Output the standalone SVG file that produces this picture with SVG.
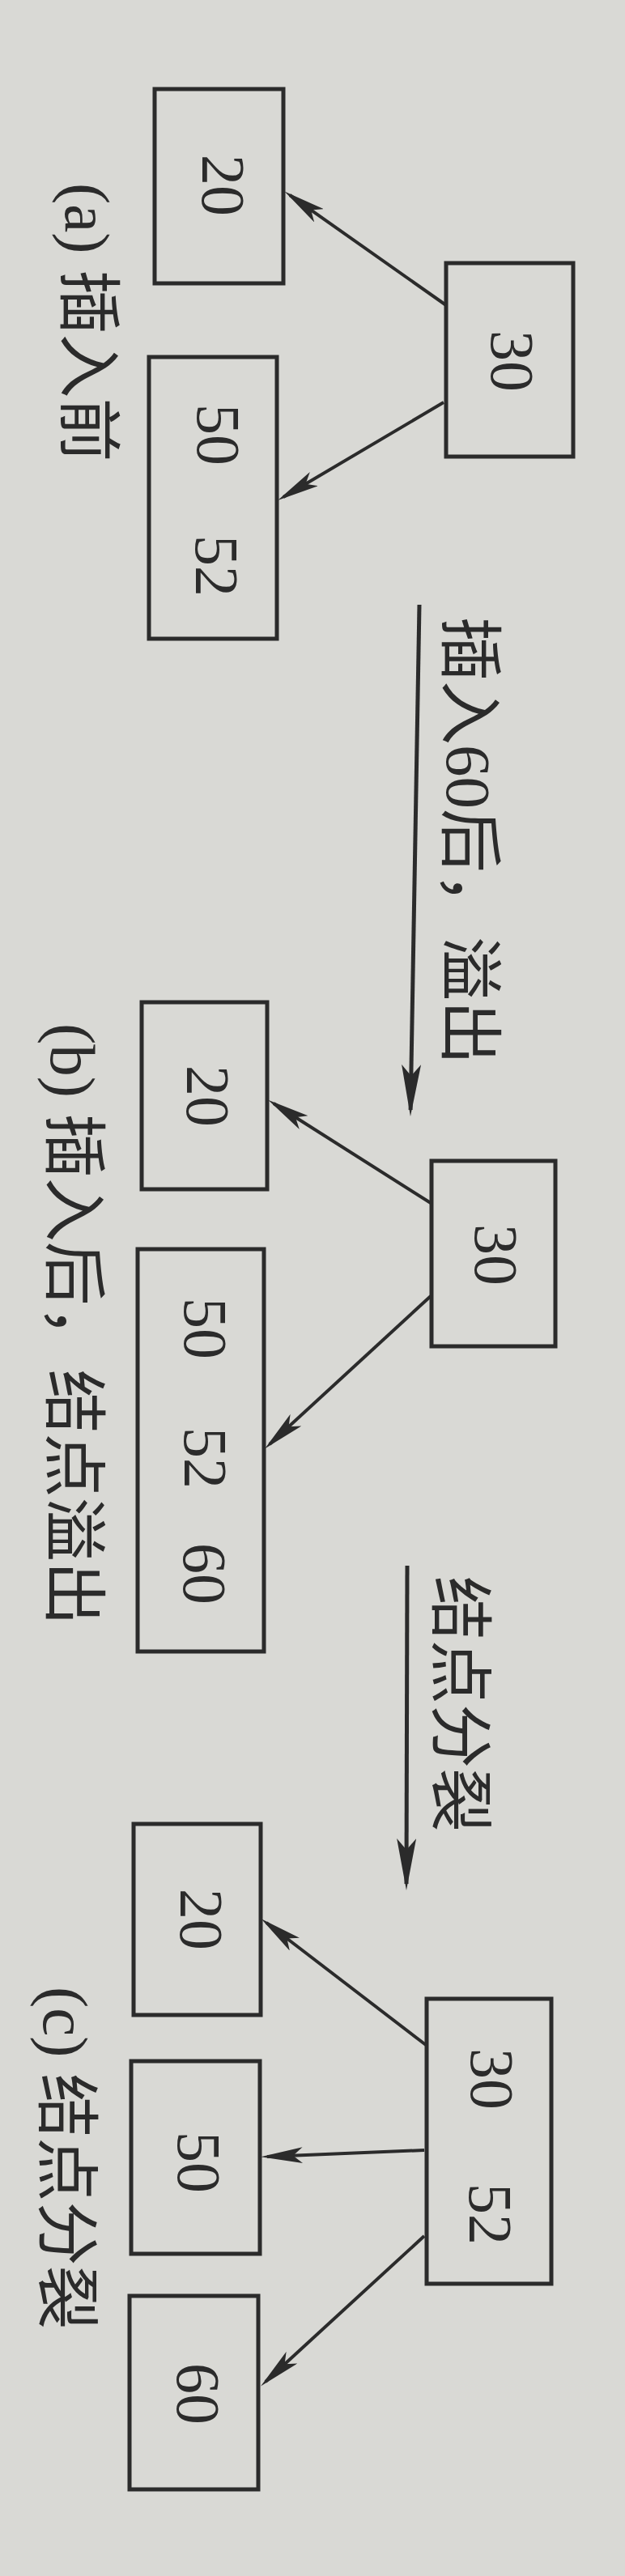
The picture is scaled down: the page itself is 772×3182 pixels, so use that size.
<svg xmlns="http://www.w3.org/2000/svg" width="772" height="3182" viewBox="0 0 772 3182">
<style>
.box{fill:none;stroke:#2b2b2b;stroke-width:5}
.num{font-family:"Liberation Serif","Noto Sans CJK SC",serif;font-size:76px;fill:#2b2b2b;text-anchor:middle;dominant-baseline:central}
.cap{font-family:"Liberation Serif","Noto Sans CJK SC",serif;font-size:79px;fill:#2b2b2b;text-anchor:start;dominant-baseline:central}
.edge{fill:none;stroke:#2b2b2b;stroke-width:4}
.flow{fill:none;stroke:#2b2b2b;stroke-width:5}
</style>
<defs>
<marker id="ah" markerUnits="userSpaceOnUse" markerWidth="52" markerHeight="20" refX="44" refY="10" orient="auto">
<path d="M0,0 L52,10 L0,20 L12,10 z" fill="#2b2b2b"/>
</marker>
<marker id="ahf" markerUnits="userSpaceOnUse" markerWidth="64" markerHeight="24" refX="56" refY="12" orient="auto">
<path d="M0,0 L64,12 L0,24 L14,12 z" fill="#2b2b2b"/>
</marker>
</defs>
<rect x="0" y="0" width="772" height="3182" fill="#d9d9d5"/>

<g id="connectors">
<line class="edge" x1="551" y1="377" x2="358" y2="241" marker-end="url(#ah)"/>
<line class="edge" x1="548" y1="497" x2="350" y2="614" marker-end="url(#ah)"/>
<line class="edge" x1="532" y1="1486" x2="338" y2="1363" marker-end="url(#ah)"/>
<line class="edge" x1="532" y1="1601" x2="333" y2="1784" marker-end="url(#ah)"/>
<line class="edge" x1="526" y1="2526" x2="329" y2="2375" marker-end="url(#ah)"/>
<line class="edge" x1="524" y1="2656" x2="330" y2="2664" marker-end="url(#ah)"/>
<line class="edge" x1="524" y1="2762" x2="328" y2="2942" marker-end="url(#ah)"/>
<line class="flow" x1="518" y1="747" x2="507.1" y2="1371" marker-end="url(#ahf)"/>
<line class="flow" x1="503" y1="1934" x2="502" y2="2327" marker-end="url(#ahf)"/>
</g>

<g id="flow-labels">
<text class="cap" transform="translate(578,762) rotate(90)">插入60后，溢出</text>
<text class="cap" transform="translate(566,1947) rotate(90)">结点分裂</text>
</g>

<g id="a-30">
<rect class="box" x="551" y="325" width="157" height="239"/>
<text class="num" transform="translate(633,446) rotate(90)">30</text>
</g>
<g id="a-20">
<rect class="box" x="191" y="110" width="159" height="240"/>
<text class="num" transform="translate(276,229) rotate(90)">20</text>
</g>
<g id="a-50-52">
<rect class="box" x="184" y="441" width="158" height="348"/>
<text class="num" transform="translate(270,537) rotate(90)">50</text>
<text class="num" transform="translate(268,699) rotate(90)">52</text>
</g>
<text class="cap" transform="translate(107,226) rotate(90)">(a) 插入前</text>

<g id="b-30">
<rect class="box" x="533" y="1434" width="153" height="229"/>
<text class="num" transform="translate(613,1550) rotate(90)">30</text>
</g>
<g id="b-20">
<rect class="box" x="175" y="1238" width="155" height="231"/>
<text class="num" transform="translate(257,1354) rotate(90)">20</text>
</g>
<g id="b-50-52-60">
<rect class="box" x="170" y="1543" width="156" height="497"/>
<text class="num" transform="translate(254,1641) rotate(90)">50</text>
<text class="num" transform="translate(254,1801) rotate(90)">52</text>
<text class="num" transform="translate(253,1944) rotate(90)">60</text>
</g>
<text class="cap" transform="translate(89,1264) rotate(90)">(b) 插入后，结点溢出</text>

<g id="c-30-52">
<rect class="box" x="527" y="2469" width="154" height="352"/>
<text class="num" transform="translate(608,2568) rotate(90)">30</text>
<text class="num" transform="translate(606,2735) rotate(90)">52</text>
</g>
<g id="c-20">
<rect class="box" x="165" y="2253" width="157" height="236"/>
<text class="num" transform="translate(249,2371) rotate(90)">20</text>
</g>
<g id="c-50">
<rect class="box" x="162" y="2546" width="159" height="238"/>
<text class="num" transform="translate(246,2671) rotate(90)">50</text>
</g>
<g id="c-60">
<rect class="box" x="160" y="2836" width="159" height="239"/>
<text class="num" transform="translate(245,2957) rotate(90)">60</text>
</g>
<text class="cap" transform="translate(80,2454) rotate(90)">(c) 结点分裂</text>
</svg>
